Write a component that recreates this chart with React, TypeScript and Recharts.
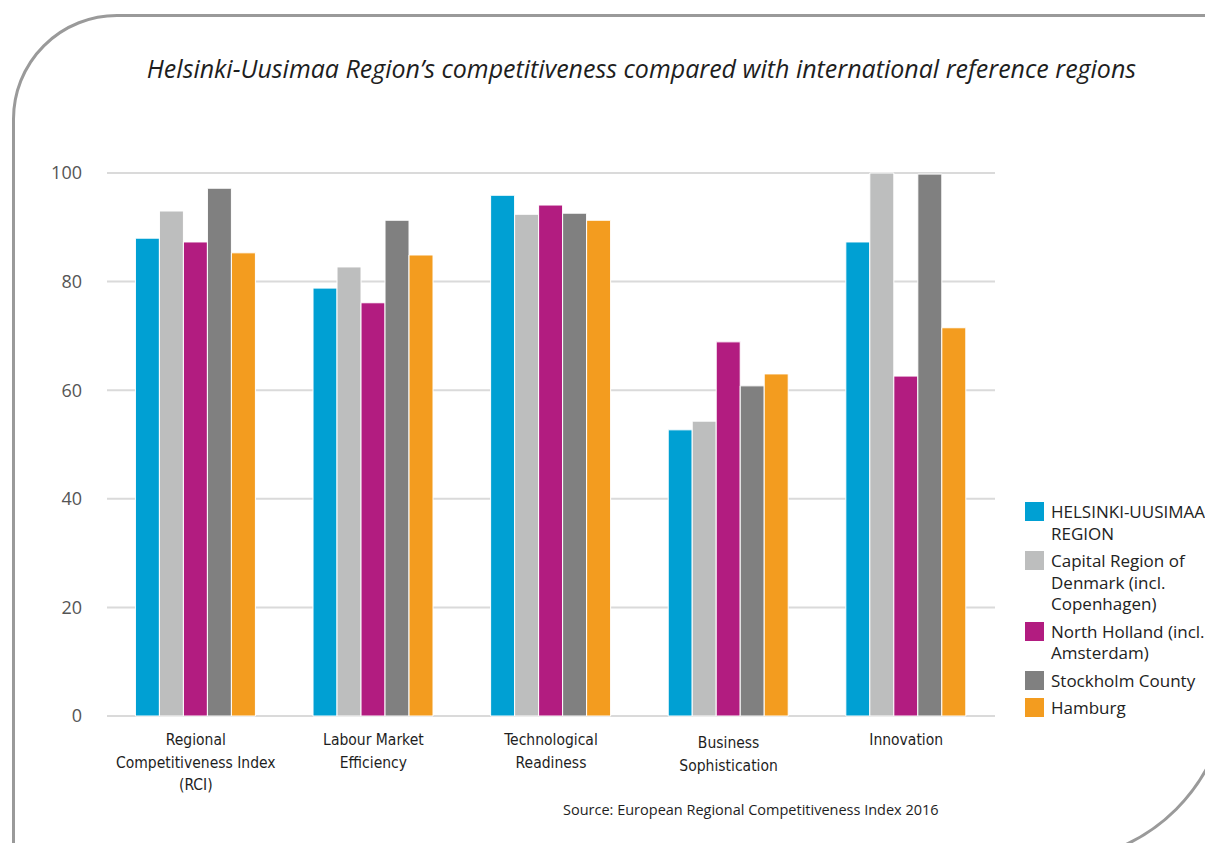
import React from 'react';
import { BarChart, Bar, XAxis, YAxis, CartesianGrid } from 'recharts';

const categories = [
  'Regional\nCompetitiveness Index\n(RCI)',
  'Labour Market\nEfficiency',
  'Technological\nReadiness',
  'Business\nSophistication',
  'Innovation',
];

const helsinki = [88.0, 78.8, 95.9, 52.7, 87.3];
const denmark = [93.0, 82.7, 92.4, 54.3, 100.0];
const northHolland = [87.3, 76.1, 94.1, 68.9, 62.6];
const stockholm = [97.2, 91.3, 92.6, 60.8, 99.8];
const hamburg = [85.3, 84.9, 91.3, 63.0, 71.5];

const yTicks = [0, 20, 40, 60, 80, 100];

const series = [
  { key: 'helsinki', name: 'HELSINKI-UUSIMAA\nREGION', color: '#00a0d3', values: helsinki },
  { key: 'denmark', name: 'Capital Region of\nDenmark (incl.\nCopenhagen)', color: '#bdbebe', values: denmark },
  { key: 'northHolland', name: 'North Holland (incl.\nAmsterdam)', color: '#b21c80', values: northHolland },
  { key: 'stockholm', name: 'Stockholm County', color: '#808080', values: stockholm },
  { key: 'hamburg', name: 'Hamburg', color: '#f39c1f', values: hamburg },
];

const data = categories.map((name, i) => {
  const row: any = { name };
  series.forEach(s => { row[s.key] = s.values[i]; });
  return row;
});

const CategoryTick = (props: any) => {
  const { x, y, payload } = props;
  const lines = String(payload.value).split('\n');
  const shift = payload.value.startsWith('Business') ? 3 : 0;
  return (
    <g transform={`translate(${x},${y})`}>
      {lines.map((line, i) => (
        <text
          key={i}
          x={0}
          y={21 + shift + i * 22.5}
          textAnchor="middle"
          fill="#1e1e1e"
          style={{ fontFamily: '"DejaVu Sans Condensed", "Open Sans", sans-serif', fontSize: 15.5 }}
        >
          {line}
        </text>
      ))}
    </g>
  );
};

export default function App() {
  return (
    <div style={{ position: 'fixed', left: 0, top: 0, width: 1205, height: 843, overflow: 'hidden', background: '#fff' }}>
      <div
        style={{
          position: 'absolute',
          left: 12,
          top: 14,
          width: 1218,
          height: 849,
          border: '3px solid #9a9a9a',
          borderRadius: '105px 0 180px 0',
          boxSizing: 'border-box',
        }}
      />
      <div
        style={{
          position: 'absolute',
          left: 0,
          top: 51,
          width: 1283,
          textAlign: 'center',
          fontFamily: '"Open Sans", sans-serif',
          fontStyle: 'italic',
          fontSize: 25,
          color: '#1e1e1e',
          whiteSpace: 'nowrap',
        }}
      >
        Helsinki-Uusimaa Region’s competitiveness compared with international reference regions
      </div>
      <div style={{ position: 'absolute', left: 0, top: 0 }}>
        <BarChart
          width={1205}
          height={843}
          data={data}
          margin={{ top: 173, right: 210, bottom: 47, left: 47 }}
          barCategoryGap="16%"
          barGap={0}
        >
          <CartesianGrid vertical={false} stroke="#dadada" strokeWidth={2} />
          <XAxis
            dataKey="name"
            axisLine={false}
            tickLine={false}
            height={80}
            interval={0}
            tick={<CategoryTick />}
          />
          <YAxis
            domain={[0, 100]}
            ticks={yTicks}
            axisLine={false}
            tickLine={false}
            width={60}
            tickSize={0}
            tickMargin={25}
            tick={{ fill: '#555', fontSize: 18, fontFamily: '"Open Sans", sans-serif' }}
          />
          {series.map(s => (
            <Bar
              key={s.key}
              dataKey={s.key}
              name={s.name}
              fill={s.color}
              stroke="#ffffff"
              strokeWidth={1}
              isAnimationActive={false}
            />
          ))}
        </BarChart>
      </div>
      <div
        style={{
          position: 'absolute',
          left: 1025,
          top: 501,
          width: 240,
          fontFamily: '"Open Sans", sans-serif',
          fontSize: 17,
          color: '#222',
          lineHeight: '21.5px',
        }}
      >
        {series.map(s => (
          <div key={s.key} style={{ display: 'flex', alignItems: 'flex-start', marginBottom: 6 }}>
            <span style={{ width: 19, height: 19, background: s.color, marginRight: 7, marginTop: 1, flexShrink: 0 }} />
            <span style={{ whiteSpace: 'pre' }}>{s.name}</span>
          </div>
        ))}
      </div>
      <div
        style={{
          position: 'absolute',
          left: 563,
          top: 800,
          fontFamily: '"Open Sans", sans-serif',
          fontSize: 14.5,
          color: '#1e1e1e',
          whiteSpace: 'nowrap',
        }}
      >
        Source: European Regional Competitiveness Index 2016
      </div>
    </div>
  );
}
